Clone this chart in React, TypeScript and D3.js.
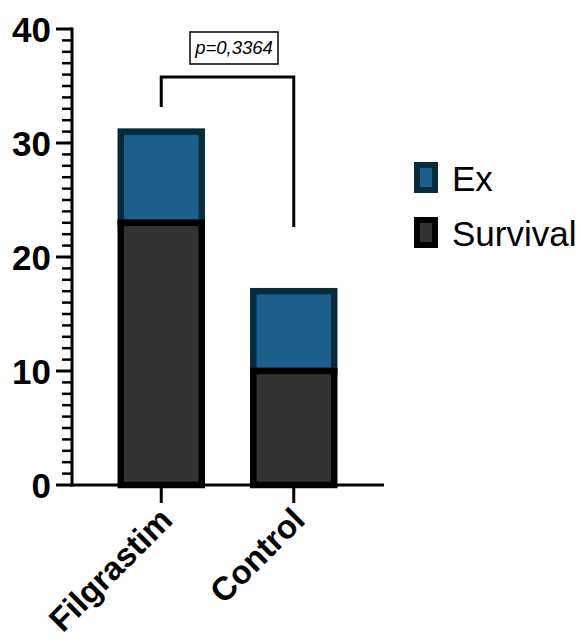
import * as d3 from 'd3';
import React, { useRef, useEffect } from 'react';

const groups = ['Filgrastim', 'Control'];
const survival = [23, 10];
const ex = [8, 7];
const yTicks = [0, 10, 20, 30, 40];
const pLabel = 'p=0,3364';
const legendItems = ['Ex', 'Survival'];

const W = 581;
const H = 644;
const FONT = 'Liberation Sans, Arial, Helvetica, sans-serif';

const App = () => {
  const ref = useRef<SVGSVGElement>(null);

  useEffect(() => {
    const svg = d3.select(ref.current);
    svg.selectAll('*').remove();

    const x = d3.scaleBand<string>()
      .domain(groups)
      .range([72, 383])
      .paddingInner(0.389)
      .paddingOuter(0.368);

    const y = d3.scaleLinear().domain([0, 40]).range([485, 29]);

    const stacked = groups.map((g, i) => ({
      g,
      surv: survival[i],
      total: survival[i] + ex[i],
    }));

    // Ex segments first, survival drawn over them so the seam is black
    svg.selectAll()
      .data(stacked)
      .enter()
      .append('rect')
      .attr('x', d => x(d.g)!)
      .attr('width', x.bandwidth())
      .attr('y', d => y(d.total))
      .attr('height', d => y(d.surv) - y(d.total))
      .attr('fill', '#1c5f8d')
      .attr('stroke', '#082b3c')
      .attr('stroke-width', 6.5);

    svg.selectAll()
      .data(stacked)
      .enter()
      .append('rect')
      .attr('x', d => x(d.g)!)
      .attr('width', x.bandwidth())
      .attr('y', d => y(d.surv))
      .attr('height', d => y(0) - y(d.surv))
      .attr('fill', '#333333')
      .attr('stroke', '#000')
      .attr('stroke-width', 6.5);

    // y axis
    const yAxis = svg.append('g');
    yAxis.append('line')
      .attr('x1', 72).attr('x2', 72)
      .attr('y1', y(40) - 1.5).attr('y2', y(0) + 1.5)
      .attr('stroke', '#000').attr('stroke-width', 3);
    yAxis.selectAll()
      .data(d3.range(0, 41).filter(v => v % 10 !== 0))
      .enter()
      .append('line')
      .attr('x1', 62).attr('x2', 72)
      .attr('y1', d => y(d)).attr('y2', d => y(d))
      .attr('stroke', '#000').attr('stroke-width', 2.5);
    yAxis.selectAll()
      .data(yTicks)
      .enter()
      .append('line')
      .attr('x1', 56).attr('x2', 72)
      .attr('y1', d => y(d)).attr('y2', d => y(d))
      .attr('stroke', '#000').attr('stroke-width', 3);
    yAxis.selectAll()
      .data(yTicks)
      .enter()
      .append('text')
      .attr('x', 51)
      .attr('y', d => y(d))
      .attr('dy', '0.36em')
      .attr('text-anchor', 'end')
      .attr('font-family', FONT)
      .attr('font-weight', 'bold')
      .attr('font-size', 35)
      .text(d => d);

    // x axis
    svg.append('line')
      .attr('x1', 70.5).attr('x2', 384)
      .attr('y1', y(0)).attr('y2', y(0))
      .attr('stroke', '#000').attr('stroke-width', 3);
    svg.selectAll()
      .data(groups)
      .enter()
      .append('line')
      .attr('x1', d => x(d)! + x.bandwidth() / 2)
      .attr('x2', d => x(d)! + x.bandwidth() / 2)
      .attr('y1', y(0)).attr('y2', y(0) + 18)
      .attr('stroke', '#000').attr('stroke-width', 3);
    svg.selectAll()
      .data(groups)
      .enter()
      .append('text')
      .attr('text-anchor', 'end')
      .attr('font-family', FONT)
      .attr('font-weight', 'bold')
      .attr('font-size', 33)
      .attr('transform', d => `translate(${x(d)! + x.bandwidth() / 2 + 13}, ${y(0) + 37}) rotate(-45)`)
      .text(d => d);

    // significance bracket
    const x1 = x(groups[0])! + x.bandwidth() / 2;
    const x2 = x(groups[1])! + x.bandwidth() / 2;
    svg.append('path')
      .attr('d', `M${x1},107 V77 H${x2} V227`)
      .attr('fill', 'none')
      .attr('stroke', '#000')
      .attr('stroke-width', 3);
    svg.append('rect')
      .attr('x', 190).attr('y', 32)
      .attr('width', 88).attr('height', 32)
      .attr('fill', '#fff')
      .attr('stroke', '#000')
      .attr('stroke-width', 1.5);
    svg.append('text')
      .attr('x', 234).attr('y', 54)
      .attr('text-anchor', 'middle')
      .attr('font-family', FONT)
      .attr('font-style', 'italic')
      .attr('font-size', 18.5)
      .text(pLabel);

    // legend
    const legend = svg.append('g').attr('transform', 'translate(414, 162)');
    const legFill = ['#1c5f8d', '#333333'];
    const legStroke = ['#082b3c', '#000'];
    legendItems.forEach((name, i) => {
      const row = legend.append('g').attr('transform', `translate(0, ${i * 55})`);
      row.append('rect')
        .attr('x', 3).attr('y', 3)
        .attr('width', 18).attr('height', 25)
        .attr('fill', legFill[i])
        .attr('stroke', legStroke[i])
        .attr('stroke-width', 6);
      row.append('text')
        .attr('x', 38).attr('y', 16)
        .attr('dy', '0.36em')
        .attr('font-family', FONT)
        .attr('font-size', 35)
        .text(name);
    });
  }, []);

  return (
    <svg ref={ref} width={W} height={H} style={{ position: 'absolute', left: 0, top: 0, background: '#fff' }} />
  );
};

export default App;
